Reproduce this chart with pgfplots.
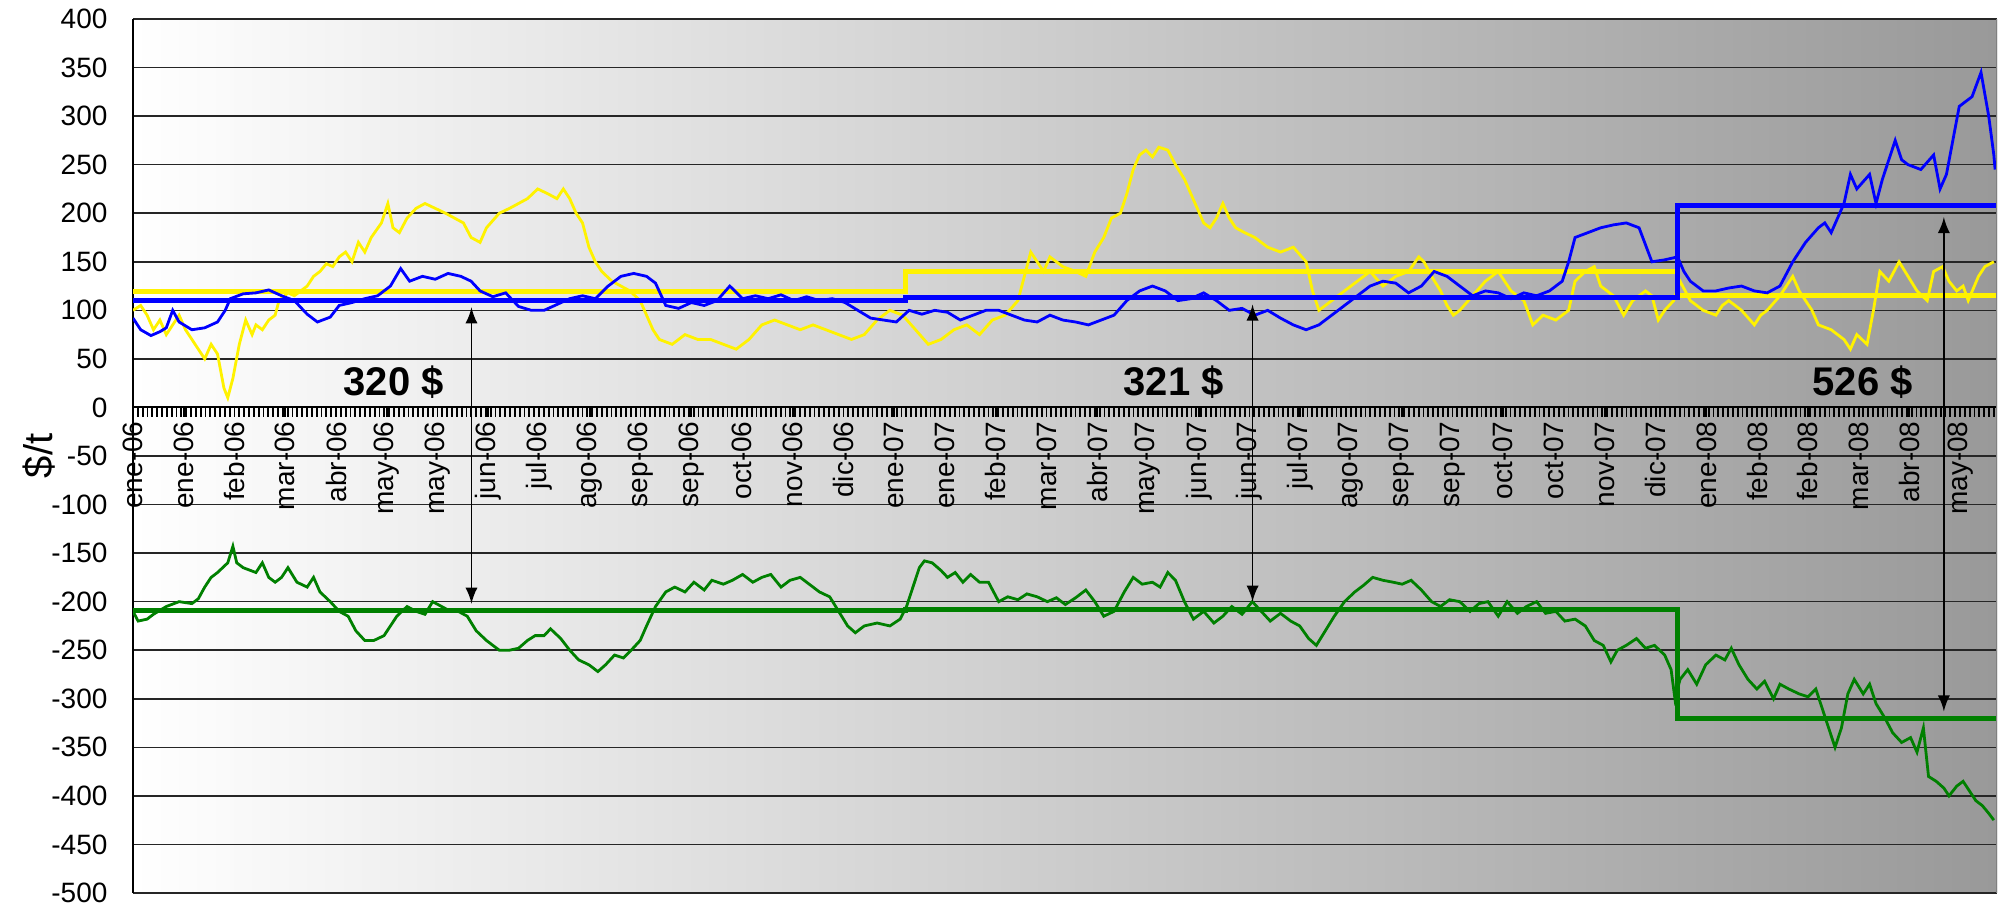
\documentclass[border=0pt]{standalone}
\usepackage{fontspec}
\setmainfont{Liberation Sans}
\usepackage{pgfplots}
\pgfplotsset{compat=1.18}

\definecolor{exgreen}{RGB}{0,128,0}

\begin{document}
\begin{tikzpicture}
  \begin{axis}[
    scale only axis,
    width=466pt, height=218.5pt,
    xmin=104, xmax=1559.5,
    ymin=-500, ymax=400,
    axis x line*=middle,
    axis y line*=left,
    hide obscured x ticks=false,
    axis line style={black, line width=0.5pt},
    axis background/.style={left color=white, right color=black!40},
    ytick distance=50,
    ymajorgrids,
    grid style={black!85, line width=0.4pt},
    ytick style={draw=none},
    yticklabel style={anchor=east, inner sep=1pt, xshift=-5.2pt},
    xtick={104,143.63,...,1531},
    xticklabels={ene-06,ene-06,feb-06,mar-06,abr-06,may-06,may-06,jun-06,jul-06,ago-06,sep-06,sep-06,oct-06,nov-06,dic-06,ene-07,ene-07,feb-07,mar-07,abr-07,may-07,jun-07,jun-07,jul-07,ago-07,sep-07,sep-07,oct-07,oct-07,nov-07,dic-07,ene-08,feb-08,feb-08,mar-08,abr-08,may-08},
    minor xtick={104,107.774,...,1559},
    xtick align=outside,
    major tick length=2.3pt, minor tick length=2.3pt,
    xtick style={black, line width=0.45pt},
    xticklabel style={rotate=90, anchor=east, inner sep=1pt},
    tick label style={font=\fontsize{7}{8}\selectfont},
    /pgf/number format/assume math mode=true,
    ylabel={\$/t},
    ylabel style={font=\bfseries\fontsize{8.5}{10}\selectfont},
    every axis y label/.style={at={(rel axis cs:0,0.5)}, xshift=-23.6pt, rotate=90, anchor=center},
  ]
    % yellow daily
    \addplot[yellow, line width=0.7pt] coordinates {
      (104,100) (110,105) (115,95) (120,80) (125,90) (130,75) (135,85) (140,95) (145,80) (150,70)
      (155,60) (160,50) (165,65) (170,55) (175,20) (178,10) (182,30) (187,65) (192,90) (197,75)
      (200,85) (205,80) (210,90) (215,95) (218,110) (225,118) (230,115) (240,125) (245,135) (250,140)
      (255,148) (260,145) (265,155) (270,160) (275,150) (280,170) (285,160) (290,175) (298,190) (303,210)
      (307,185) (312,180) (318,195) (325,205) (332,210) (340,205) (348,200) (355,195) (362,190) (368,175)
      (375,170) (380,185) (390,200) (398,205) (405,210) (412,215) (420,225) (428,220) (435,215) (440,225)
      (445,215) (450,200) (455,190) (460,165) (465,150) (470,140) (478,130) (485,125) (492,120) (500,110)
      (505,95) (510,80) (515,70) (525,65) (535,75) (545,70) (555,70) (565,65) (575,60) (585,70)
      (595,85) (605,90) (615,85) (625,80) (635,85) (645,80) (655,75) (665,70) (675,75) (685,90)
      (695,100) (705,95) (715,80) (725,65) (735,70) (745,80) (755,85) (765,75) (775,90) (785,95)
      (795,110) (800,135) (805,160) (810,150) (815,140) (820,155) (830,145) (840,140) (848,135) (855,160)
      (862,175) (868,195) (875,200) (880,220) (885,245) (890,260) (895,265) (900,258) (905,268) (912,265)
      (918,250) (925,235) (930,220) (935,205) (940,190) (945,185) (950,195) (955,210) (960,195) (965,185)
      (972,180) (980,175) (990,165) (1000,160) (1010,165) (1020,150) (1025,120) (1030,100) (1040,110) (1050,120)
      (1060,130) (1070,140) (1080,125) (1090,135) (1100,140) (1108,155) (1112,150) (1118,135) (1125,120) (1130,105)
      (1135,95) (1140,100) (1150,115) (1160,130) (1170,140) (1180,120) (1190,110) (1197,85) (1205,95) (1215,90)
      (1225,100) (1230,130) (1238,140) (1245,145) (1250,125) (1260,115) (1268,95) (1275,110) (1285,120) (1290,115)
      (1295,90) (1300,100) (1307,110) (1312,130) (1320,110) (1330,100) (1340,95) (1345,105) (1350,110) (1360,100)
      (1370,85) (1375,95) (1380,100) (1390,115) (1395,125) (1400,135) (1405,120) (1415,100) (1420,85) (1430,80)
      (1440,70) (1445,60) (1450,75) (1458,65) (1463,100) (1468,140) (1475,130) (1483,150) (1490,135) (1497,120)
      (1505,110) (1510,140) (1517,145) (1522,130) (1528,120) (1533,125) (1537,110) (1545,135) (1550,145) (1557,150)
    };
    \addplot[yellow, line width=1.3pt, const plot] coordinates {
      (104,119) (707,140) (1310,115) (1559.5,115)
    };
    % blue daily
    \addplot[blue, line width=0.7pt] coordinates {
      (104,92) (110,80) (118,74) (125,78) (130,82) (135,100) (140,88) (150,80) (160,82) (170,88)
      (176,100) (180,112) (190,117) (200,118) (210,121) (220,115) (230,110) (240,96) (248,88) (258,93)
      (265,105) (275,108) (285,112) (295,115) (305,125) (313,143) (320,130) (330,135) (340,132) (350,138)
      (360,135) (368,130) (375,120) (385,114) (395,118) (405,104) (415,100) (425,100) (435,106) (445,112)
      (455,115) (465,112) (475,125) (485,135) (495,138) (505,135) (512,128) (520,105) (530,102) (540,108)
      (550,105) (560,110) (570,125) (580,112) (590,115) (600,112) (610,116) (620,110) (630,114) (640,110)
      (650,112) (660,108) (670,100) (680,92) (690,90) (700,88) (710,100) (720,96) (730,100) (740,98)
      (750,90) (760,95) (770,100) (780,100) (790,95) (800,90) (810,88) (820,95) (830,90) (840,88)
      (850,85) (860,90) (870,95) (880,110) (890,120) (900,125) (910,120) (920,110) (930,112) (940,118)
      (950,110) (960,100) (970,102) (980,95) (990,100) (1000,92) (1010,85) (1020,80) (1030,85) (1040,95)
      (1050,105) (1060,115) (1070,125) (1080,130) (1090,128) (1100,118) (1110,125) (1120,140) (1130,135) (1140,125)
      (1150,115) (1160,120) (1170,118) (1180,112) (1190,118) (1200,115) (1210,120) (1220,130) (1225,150) (1230,175)
      (1240,180) (1250,185) (1260,188) (1270,190) (1280,185) (1290,150) (1300,152) (1310,155) (1315,140) (1320,130)
      (1330,120) (1340,120) (1350,123) (1360,125) (1370,120) (1380,118) (1390,125) (1400,150) (1410,170) (1420,185)
      (1425,190) (1430,180) (1440,210) (1445,240) (1450,225) (1460,240) (1465,210) (1470,235) (1480,275) (1485,255)
      (1490,250) (1500,245) (1510,260) (1515,225) (1520,240) (1530,310) (1540,320) (1547,345) (1553,300) (1557,260)
      (1558,245)
    };
    \addplot[blue, line width=1.3pt, const plot] coordinates {
      (104,110) (707,113) (1310,208) (1559.5,208)
    };
    % green daily
    \addplot[exgreen, line width=0.7pt] coordinates {
      (104,-210) (108,-220) (115,-218) (120,-213) (130,-205) (140,-200) (150,-202) (155,-197) (160,-185) (165,-175)
      (170,-170) (178,-160) (182,-143) (185,-160) (190,-165) (200,-170) (205,-160) (210,-175) (215,-180) (220,-175)
      (225,-165) (232,-180) (240,-185) (245,-175) (250,-190) (258,-200) (265,-210) (272,-215) (278,-230) (285,-240)
      (292,-240) (300,-235) (305,-225) (310,-215) (318,-205) (325,-210) (332,-213) (338,-200) (345,-205) (352,-210)
      (358,-210) (365,-215) (372,-230) (380,-240) (390,-250) (398,-250) (405,-248) (412,-240) (418,-235) (425,-235)
      (430,-228) (438,-238) (445,-250) (452,-260) (460,-265) (467,-272) (473,-265) (480,-255) (487,-258) (493,-250)
      (500,-240) (505,-225) (512,-205) (520,-190) (527,-185) (535,-190) (542,-180) (550,-188) (556,-178) (565,-182)
      (572,-178) (580,-172) (588,-180) (595,-175) (602,-172) (610,-185) (617,-178) (625,-175) (632,-182) (640,-190)
      (648,-195) (655,-210) (662,-225) (668,-232) (675,-225) (685,-222) (695,-225) (703,-218) (708,-205) (713,-185)
      (718,-165) (722,-158) (728,-160) (735,-168) (740,-175) (746,-170) (752,-180) (758,-172) (765,-180) (772,-180)
      (780,-200) (787,-195) (795,-198) (802,-192) (810,-195) (818,-200) (825,-196) (832,-203) (840,-196) (848,-188)
      (855,-200) (862,-215) (870,-210) (878,-190) (885,-175) (892,-182) (900,-180) (906,-185) (912,-170) (918,-178)
      (925,-200) (932,-218) (940,-210) (948,-222) (955,-215) (962,-205) (970,-213) (978,-200) (985,-210) (992,-220)
      (1000,-212) (1008,-220) (1015,-225) (1022,-238) (1028,-245) (1035,-230) (1042,-215) (1050,-200) (1058,-190) (1065,-183)
      (1072,-175) (1080,-178) (1088,-180) (1095,-182) (1102,-178) (1110,-188) (1118,-200) (1125,-205) (1132,-198) (1140,-200)
      (1148,-210) (1155,-202) (1162,-200) (1170,-215) (1177,-200) (1185,-212) (1192,-205) (1200,-200) (1207,-212) (1215,-210)
      (1222,-220) (1230,-218) (1238,-225) (1245,-240) (1252,-245) (1258,-262) (1263,-250) (1270,-245) (1278,-238) (1285,-248)
      (1292,-245) (1300,-255) (1305,-270) (1308,-300) (1312,-280) (1318,-270) (1325,-285) (1332,-265) (1340,-255) (1347,-260)
      (1352,-248) (1358,-265) (1365,-280) (1372,-290) (1378,-282) (1385,-300) (1390,-285) (1397,-290) (1405,-295) (1412,-298)
      (1418,-290) (1423,-310) (1428,-330) (1433,-350) (1438,-330) (1443,-295) (1448,-280) (1455,-295) (1460,-285) (1465,-305)
      (1472,-320) (1478,-335) (1485,-345) (1492,-340) (1497,-355) (1502,-330) (1506,-380) (1512,-385) (1518,-392) (1522,-400)
      (1528,-390) (1533,-385) (1538,-395) (1543,-405) (1548,-410) (1553,-418) (1557,-425)
    };
    \addplot[exgreen, line width=1.3pt, const plot] coordinates {
      (104,-209) (707,-208) (1310,-320) (1559.5,-320)
    };
    % spreads
    \addplot[black, line width=0.4pt, <->, >=latex] coordinates {(368.3,103) (368.3,-202)};
    \addplot[black, line width=0.4pt, <->, >=latex] coordinates {(978.2,106) (978.2,-200)};
    \addplot[black, line width=0.4pt, <->, >=latex] coordinates {(1518,196) (1518,-313)};
    \node[anchor=east, font=\bfseries\fontsize{10}{12}\selectfont] at (axis cs:357.6,26) {320 \$};
    \node[anchor=east, font=\bfseries\fontsize{10}{12}\selectfont] at (axis cs:966.7,26) {321 \$};
    \node[anchor=east, font=\bfseries\fontsize{10}{12}\selectfont] at (axis cs:1504.8,26) {526 \$};
    \draw[black!50, line width=0.4pt] (rel axis cs:1,0) -- (rel axis cs:1,1);
    \coordinate (sw) at (rel axis cs:0,0);
    \coordinate (ne) at (rel axis cs:1,1);
  \end{axis}
  \pgfresetboundingbox
  \path ([shift={(-33.25pt,-2.5pt)}]sw) rectangle ([shift={(2.75pt,4.75pt)}]ne);
\end{tikzpicture}
\end{document}
